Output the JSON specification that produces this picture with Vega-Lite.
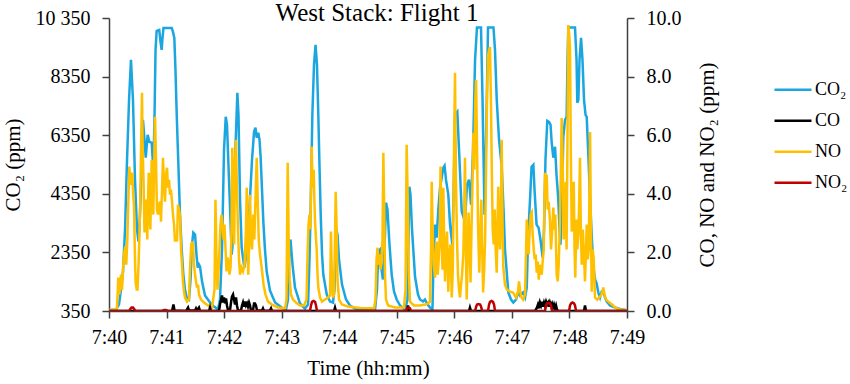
{
"$schema":"https://vega.github.io/schema/vega-lite/v6.json",
"width":518,"height":293,
"autosize":{"type":"none"},
"padding":{"left":109,"top":18,"right":223,"bottom":73},
"background":"white",
"title":{"text":"West Stack: Flight 1","font":"Liberation Serif","fontSize":25,"fontWeight":"normal","color":"#000","anchor":"middle","dx":9,"offset":-18},
"config":{"view":{"stroke":null},"font":"Liberation Serif",
"axis":{"labelFont":"Liberation Serif","titleFont":"Liberation Serif","labelFontSize":20,"titleFontSize":21,"titleFontWeight":"normal","labelColor":"#000","titleColor":"#000","domainColor":"#404040","tickColor":"#404040","domainWidth":1.5,"tickWidth":1.5,"tickSize":7,"grid":false,"labelPadding":12,"labelFlush":false},
"legend":{"orient":"none","legendX":664,"legendY":56.5,"symbolType":"stroke","symbolSize":1369,"symbolStrokeWidth":2.5,"clipHeight":30.5,"labelFont":"Liberation Serif","labelFontSize":18,"labelColor":"#000","labelOffset":2,"rowPadding":0,"padding":0,"title":null}},
"datasets":{
"co2":[{"t":0,"v":384},{"t":7.3,"v":401},{"t":10.4,"v":571},{"t":12.5,"v":1083},{"t":14.6,"v":1696},{"t":16.7,"v":3128},{"t":18.8,"v":5513},{"t":20.9,"v":7558},{"t":22.9,"v":8921},{"t":25,"v":7558},{"t":27.1,"v":4832},{"t":29.2,"v":3128},{"t":30.8,"v":2719},{"t":32.3,"v":3639},{"t":33.9,"v":5172},{"t":35.4,"v":6876},{"t":37,"v":6195},{"t":38.3,"v":5581},{"t":40.3,"v":6365},{"t":42,"v":6127},{"t":44.5,"v":6092},{"t":46.2,"v":5172},{"t":47.4,"v":6876},{"t":48.5,"v":9262},{"t":49.7,"v":9909},{"t":52.4,"v":9944},{"t":53.7,"v":9535},{"t":54.9,"v":9262},{"t":55.8,"v":9671},{"t":56.8,"v":10012},{"t":65.4,"v":10012},{"t":66.7,"v":9875},{"t":68.1,"v":9671},{"t":69.3,"v":8580},{"t":70.6,"v":7047},{"t":72.5,"v":5172},{"t":74,"v":3639},{"t":75.8,"v":2446},{"t":77.5,"v":1594},{"t":79.2,"v":1083},{"t":81,"v":810},{"t":83.4,"v":742},{"t":85,"v":1424},{"t":86.5,"v":2616},{"t":87.9,"v":3025},{"t":89.7,"v":2957},{"t":91.2,"v":2276},{"t":92.5,"v":1832},{"t":93.8,"v":1935},{"t":94.9,"v":1867},{"t":97,"v":1355},{"t":100.1,"v":878},{"t":105.3,"v":640},{"t":109.5,"v":503},{"t":113.6,"v":401},{"t":115.7,"v":742},{"t":117.8,"v":2446},{"t":119.9,"v":5854},{"t":121.7,"v":6979},{"t":123,"v":6706},{"t":125.1,"v":4832},{"t":127.9,"v":2276},{"t":129.3,"v":2787},{"t":131.4,"v":5513},{"t":133.8,"v":7796},{"t":135,"v":7047},{"t":136.6,"v":4150},{"t":138.3,"v":2514},{"t":141.1,"v":1832},{"t":143.3,"v":2276},{"t":145.4,"v":3298},{"t":147,"v":4218},{"t":149.1,"v":5513},{"t":151.2,"v":6467},{"t":152.7,"v":6604},{"t":154,"v":6263},{"t":155.6,"v":6433},{"t":156.9,"v":6195},{"t":158.1,"v":5581},{"t":159.5,"v":4491},{"t":160.9,"v":3400},{"t":162.6,"v":2446},{"t":164.4,"v":1696},{"t":167.8,"v":1049},{"t":173.1,"v":640},{"t":180,"v":469},{"t":184.5,"v":401},{"t":186.6,"v":742},{"t":188.2,"v":2616},{"t":189.2,"v":2787},{"t":191.3,"v":1935},{"t":193.9,"v":1151},{"t":199.1,"v":606},{"t":204.3,"v":435},{"t":207.5,"v":571},{"t":209,"v":2105},{"t":210.1,"v":3639},{"t":212,"v":7047},{"t":213.7,"v":8751},{"t":215.3,"v":9432},{"t":216.8,"v":8751},{"t":218.2,"v":7047},{"t":219.4,"v":5343},{"t":220.7,"v":3639},{"t":222.1,"v":2276},{"t":223.4,"v":1594},{"t":227,"v":912},{"t":230.4,"v":674},{"t":233.5,"v":640},{"t":235.1,"v":1083},{"t":236.6,"v":3196},{"t":238.2,"v":2957},{"t":239.8,"v":2105},{"t":242.9,"v":1253},{"t":247.1,"v":742},{"t":251.2,"v":537},{"t":256.5,"v":435},{"t":266.9,"v":384},{"t":277.3,"v":384},{"t":279.4,"v":1083},{"t":280.7,"v":2378},{"t":282.5,"v":2446},{"t":284.1,"v":1764},{"t":285.6,"v":1424},{"t":287.2,"v":2446},{"t":288.8,"v":4048},{"t":290.3,"v":3809},{"t":292.4,"v":2616},{"t":294.7,"v":1594},{"t":297.1,"v":1015},{"t":299.9,"v":742},{"t":303.4,"v":537},{"t":308.6,"v":401},{"t":311.2,"v":742},{"t":312.2,"v":2787},{"t":313.1,"v":4593},{"t":314.3,"v":4320},{"t":315.9,"v":3128},{"t":319,"v":1526},{"t":322.1,"v":912},{"t":324.2,"v":742},{"t":327.3,"v":674},{"t":329.4,"v":742},{"t":331.5,"v":606},{"t":334.6,"v":469},{"t":337.2,"v":401},{"t":338.3,"v":2105},{"t":339.9,"v":3298},{"t":341.6,"v":2855},{"t":343.3,"v":3809},{"t":345.1,"v":4559},{"t":348.5,"v":5240},{"t":349.8,"v":5309},{"t":351.3,"v":4832},{"t":353.7,"v":4320},{"t":355.5,"v":3298},{"t":357.9,"v":2616},{"t":359.1,"v":4150},{"t":360.7,"v":7047},{"t":363.1,"v":7149},{"t":364.9,"v":5854},{"t":367.7,"v":3741},{"t":371.1,"v":3400},{"t":373.2,"v":4661},{"t":375.3,"v":4832},{"t":377.4,"v":3980},{"t":379.5,"v":5854},{"t":381.6,"v":8921},{"t":383.6,"v":10030},{"t":387.8,"v":10030},{"t":389.4,"v":7558},{"t":391.5,"v":3639},{"t":393.5,"v":6876},{"t":395.1,"v":10030},{"t":400.8,"v":10030},{"t":402.4,"v":9262},{"t":404.2,"v":7558},{"t":406.6,"v":6195},{"t":409.4,"v":5275},{"t":411.3,"v":3809},{"t":412.8,"v":2446},{"t":416.3,"v":980},{"t":419.1,"v":742},{"t":421.5,"v":640},{"t":424.3,"v":742},{"t":426.7,"v":1015},{"t":428.5,"v":878},{"t":431.6,"v":980},{"t":433.7,"v":810},{"t":435.5,"v":1151},{"t":436.8,"v":2787},{"t":438.9,"v":4150},{"t":440.5,"v":5275},{"t":442.4,"v":5343},{"t":443.6,"v":4491},{"t":445.7,"v":3298},{"t":447.8,"v":3196},{"t":449.8,"v":2787},{"t":452.1,"v":2173},{"t":453.5,"v":3128},{"t":455,"v":5513},{"t":456.9,"v":6842},{"t":458.7,"v":6808},{"t":460.3,"v":6706},{"t":461.5,"v":6092},{"t":463.2,"v":5581},{"t":465,"v":5956},{"t":466.5,"v":5002},{"t":468.4,"v":4150},{"t":469.7,"v":3128},{"t":470.7,"v":2616},{"t":472.3,"v":4150},{"t":473.6,"v":6297},{"t":475.4,"v":6876},{"t":477.1,"v":6979},{"t":478,"v":8921},{"t":478.8,"v":10030},{"t":485.8,"v":10030},{"t":487.4,"v":8921},{"t":488.2,"v":7456},{"t":489.3,"v":7558},{"t":490.5,"v":8921},{"t":492.1,"v":9671},{"t":493.6,"v":8921},{"t":495.2,"v":7558},{"t":496.8,"v":7047},{"t":498,"v":6979},{"t":499.9,"v":5513},{"t":501.5,"v":4150},{"t":503.2,"v":2957},{"t":504.9,"v":1867},{"t":506.7,"v":1424},{"t":508.4,"v":1287},{"t":510.1,"v":980},{"t":511.9,"v":810},{"t":513.7,"v":1015},{"t":515.3,"v":1015},{"t":517.1,"v":810},{"t":518.9,"v":674},{"t":522.3,"v":537},{"t":527.5,"v":469},{"t":532.7,"v":418},{"t":539,"v":384}],
"no":[{"t":0,"v":0.03},{"t":4.2,"v":0.03},{"t":8.3,"v":0.09},{"t":9.7,"v":1.14},{"t":10.6,"v":0.56},{"t":11.5,"v":0.73},{"t":12.5,"v":1.24},{"t":13.6,"v":0.73},{"t":14.6,"v":1.41},{"t":15.6,"v":1.93},{"t":17,"v":2.2},{"t":18,"v":1.58},{"t":19.1,"v":2.44},{"t":19.8,"v":3.36},{"t":20.5,"v":4.14},{"t":21.2,"v":4.93},{"t":22.1,"v":4.48},{"t":22.9,"v":4.31},{"t":23.7,"v":4.65},{"t":24.3,"v":4.72},{"t":25.2,"v":3.97},{"t":26.1,"v":3.56},{"t":27.1,"v":1.76},{"t":27.8,"v":0.97},{"t":28.9,"v":0.73},{"t":29.7,"v":0.73},{"t":30.8,"v":1.58},{"t":31.6,"v":2.44},{"t":32.6,"v":3.8},{"t":33.4,"v":5.5},{"t":34.4,"v":7.45},{"t":35.1,"v":5.5},{"t":36,"v":4.48},{"t":37,"v":2.68},{"t":37.8,"v":3.46},{"t":38.6,"v":3.8},{"t":39.3,"v":3.29},{"t":39.9,"v":2.44},{"t":40.7,"v":3.8},{"t":41.4,"v":4.72},{"t":42.2,"v":3.46},{"t":43.1,"v":2.78},{"t":43.8,"v":3.97},{"t":44.5,"v":5.16},{"t":45.3,"v":4.14},{"t":46.2,"v":3.29},{"t":47.1,"v":4.99},{"t":48,"v":6.63},{"t":49,"v":5.16},{"t":50,"v":3.46},{"t":51.1,"v":3.29},{"t":52.1,"v":3.63},{"t":53.2,"v":3.73},{"t":54.2,"v":3.05},{"t":55.3,"v":4.14},{"t":56.3,"v":5.23},{"t":57.3,"v":4.31},{"t":58.4,"v":3.73},{"t":59.4,"v":4.65},{"t":60.5,"v":4.89},{"t":61.5,"v":4.21},{"t":62.6,"v":4.48},{"t":63.6,"v":3.97},{"t":64.6,"v":4.14},{"t":65.7,"v":3.73},{"t":66.7,"v":3.29},{"t":67.8,"v":2.95},{"t":68.8,"v":2.37},{"t":69.8,"v":2.61},{"t":70.9,"v":2.37},{"t":71.9,"v":3.63},{"t":73,"v":3.46},{"t":74,"v":3.29},{"t":75.1,"v":2.1},{"t":76.1,"v":1.58},{"t":77.1,"v":1.01},{"t":78.2,"v":0.66},{"t":79.2,"v":0.46},{"t":81.3,"v":0.32},{"t":83.4,"v":0.39},{"t":84.4,"v":1.41},{"t":85.5,"v":2.16},{"t":86.5,"v":2.37},{"t":87.6,"v":2.27},{"t":88.6,"v":1.58},{"t":89.7,"v":1.24},{"t":90.7,"v":1.01},{"t":91.7,"v":0.8},{"t":92.8,"v":0.9},{"t":93.8,"v":0.56},{"t":95.9,"v":0.39},{"t":99,"v":0.29},{"t":103.2,"v":0.19},{"t":107.4,"v":0.12},{"t":110,"v":0.73},{"t":111,"v":3.8},{"t":112.1,"v":1.76},{"t":113.1,"v":0.73},{"t":114.2,"v":1.41},{"t":115.2,"v":2.1},{"t":116.2,"v":2.95},{"t":117.3,"v":3.29},{"t":118.3,"v":2.95},{"t":119.4,"v":2.44},{"t":120.4,"v":2.95},{"t":121.5,"v":2.1},{"t":122.5,"v":1.35},{"t":123.5,"v":1.82},{"t":124.6,"v":1.69},{"t":125.6,"v":1.24},{"t":126.7,"v":1.48},{"t":127.7,"v":2.78},{"t":128.5,"v":5.57},{"t":129.6,"v":3.8},{"t":130.5,"v":2.27},{"t":131.4,"v":5.16},{"t":132.4,"v":5.84},{"t":133.4,"v":4.14},{"t":134.5,"v":2.78},{"t":135.5,"v":1.76},{"t":136.6,"v":1.24},{"t":138.1,"v":1.48},{"t":139.7,"v":1.35},{"t":141.3,"v":1.58},{"t":142.8,"v":2.78},{"t":143.6,"v":4.21},{"t":144.4,"v":2.1},{"t":145.2,"v":1.24},{"t":146.2,"v":2.44},{"t":147,"v":3.97},{"t":148,"v":2.44},{"t":149.1,"v":2.1},{"t":150.4,"v":3.29},{"t":151.5,"v":2.44},{"t":152.7,"v":3.8},{"t":154,"v":5.23},{"t":155,"v":3.8},{"t":156.1,"v":2.44},{"t":157.4,"v":1.93},{"t":159.2,"v":1.48},{"t":161.1,"v":0.9},{"t":163.2,"v":0.56},{"t":165.8,"v":0.32},{"t":169.9,"v":0.22},{"t":176.2,"v":0.12},{"t":183.5,"v":0.09},{"t":185,"v":0.39},{"t":186.3,"v":5.06},{"t":187.3,"v":2.44},{"t":188.4,"v":1.07},{"t":189.7,"v":0.56},{"t":191.8,"v":0.39},{"t":194.9,"v":0.29},{"t":199.1,"v":0.19},{"t":203.3,"v":0.19},{"t":205.9,"v":0.39},{"t":207.1,"v":2.1},{"t":208,"v":2.95},{"t":209,"v":3.29},{"t":209.9,"v":2.78},{"t":210.6,"v":4.14},{"t":211.3,"v":5.61},{"t":212,"v":4.65},{"t":212.7,"v":4.21},{"t":213.4,"v":4.82},{"t":214.1,"v":3.8},{"t":214.8,"v":3.05},{"t":215.8,"v":2.44},{"t":216.5,"v":2.1},{"t":217.4,"v":1.24},{"t":218.2,"v":0.8},{"t":220,"v":0.46},{"t":222.1,"v":0.32},{"t":225.2,"v":0.39},{"t":228.3,"v":0.46},{"t":230.4,"v":0.53},{"t":231.4,"v":2.71},{"t":232.5,"v":0.9},{"t":233.5,"v":0.46},{"t":234.6,"v":0.56},{"t":235.6,"v":2.44},{"t":236.3,"v":4.07},{"t":237.2,"v":2.95},{"t":238.2,"v":1.07},{"t":239.8,"v":0.39},{"t":242.9,"v":0.22},{"t":249.2,"v":0.15},{"t":261.7,"v":0.1},{"t":276.3,"v":0.09},{"t":277.8,"v":0.39},{"t":278.9,"v":1.76},{"t":279.9,"v":2.16},{"t":281,"v":1.58},{"t":282,"v":1.93},{"t":283,"v":1.41},{"t":284.1,"v":1.69},{"t":285.1,"v":2.44},{"t":286,"v":5.4},{"t":286.9,"v":3.46},{"t":287.7,"v":1.24},{"t":288.8,"v":0.39},{"t":290.9,"v":0.19},{"t":298.2,"v":0.12},{"t":307.5,"v":0.12},{"t":309.1,"v":0.73},{"t":310.3,"v":5.67},{"t":311.4,"v":3.8},{"t":312.4,"v":1.41},{"t":313.8,"v":0.32},{"t":317.9,"v":0.19},{"t":324.2,"v":0.19},{"t":329.4,"v":0.22},{"t":332.6,"v":0.26},{"t":334.6,"v":0.32},{"t":335.7,"v":2.1},{"t":336.4,"v":4.41},{"t":337.4,"v":2.78},{"t":338.5,"v":1.58},{"t":339.9,"v":1.14},{"t":340.9,"v":2.1},{"t":341.6,"v":2.37},{"t":342.7,"v":1.24},{"t":343.7,"v":1.76},{"t":344.8,"v":2.61},{"t":345.6,"v":4.93},{"t":346.6,"v":2.44},{"t":347.7,"v":1.41},{"t":348.5,"v":4.21},{"t":349.4,"v":2.44},{"t":350.3,"v":1.01},{"t":351.3,"v":2.1},{"t":352.4,"v":2.71},{"t":353.7,"v":0.66},{"t":354.8,"v":1.93},{"t":356,"v":2.27},{"t":357.3,"v":0.46},{"t":358.4,"v":1.41},{"t":359.7,"v":5.5},{"t":360.7,"v":8.13},{"t":361.7,"v":4.48},{"t":362.8,"v":2.44},{"t":363.8,"v":1.24},{"t":364.9,"v":0.73},{"t":365.9,"v":0.46},{"t":367,"v":0.9},{"t":368,"v":1.24},{"t":369.4,"v":1.93},{"t":370.3,"v":3.46},{"t":371.1,"v":5.23},{"t":372.2,"v":1.76},{"t":372.9,"v":0.39},{"t":374,"v":1.93},{"t":374.8,"v":3.36},{"t":375.8,"v":2.44},{"t":376.9,"v":0.97},{"t":377.9,"v":2.78},{"t":379,"v":4.48},{"t":379.8,"v":6.08},{"t":380.9,"v":4.82},{"t":381.9,"v":7.21},{"t":382.7,"v":7.89},{"t":383.7,"v":5.5},{"t":384.8,"v":2.78},{"t":386,"v":1.31},{"t":387.2,"v":2.78},{"t":388.2,"v":3.8},{"t":389.3,"v":1.76},{"t":390,"v":0.63},{"t":391.1,"v":1.41},{"t":392.1,"v":2.44},{"t":393.2,"v":5.16},{"t":394.2,"v":7.55},{"t":395.3,"v":8.74},{"t":396.2,"v":8.91},{"t":397.2,"v":9.01},{"t":398.3,"v":6.87},{"t":399,"v":4.93},{"t":400,"v":2.78},{"t":401.1,"v":2.27},{"t":402.1,"v":3.46},{"t":403.1,"v":2.1},{"t":404.2,"v":1.31},{"t":405,"v":2.95},{"t":405.8,"v":4.24},{"t":406.8,"v":2.44},{"t":407.6,"v":2.1},{"t":408.7,"v":3.8},{"t":409.4,"v":5.84},{"t":410.2,"v":3.12},{"t":411,"v":1.52},{"t":412.8,"v":0.9},{"t":414.9,"v":0.73},{"t":418,"v":0.66},{"t":421.2,"v":0.63},{"t":424.3,"v":0.46},{"t":426.4,"v":0.66},{"t":427.4,"v":1.01},{"t":428.5,"v":0.73},{"t":429.5,"v":0.49},{"t":431.6,"v":0.39},{"t":433.7,"v":0.56},{"t":434.8,"v":2.1},{"t":435.5,"v":3.12},{"t":436.5,"v":2.27},{"t":437.5,"v":1.93},{"t":438.6,"v":2.78},{"t":439.6,"v":3.29},{"t":440.7,"v":3.36},{"t":441.7,"v":2.61},{"t":442.8,"v":2.1},{"t":443.8,"v":1.76},{"t":444.8,"v":1.93},{"t":445.9,"v":1.31},{"t":446.9,"v":1.69},{"t":448,"v":1.07},{"t":449,"v":1.58},{"t":450.1,"v":1.41},{"t":451.1,"v":1.24},{"t":452.1,"v":1.69},{"t":453.2,"v":2.1},{"t":454,"v":3.8},{"t":454.5,"v":4.72},{"t":455.6,"v":3.8},{"t":456.3,"v":4.65},{"t":457.3,"v":3.46},{"t":458.4,"v":3.73},{"t":459.7,"v":3.05},{"t":460.8,"v":2.1},{"t":461.8,"v":2.61},{"t":463.2,"v":3.53},{"t":464.2,"v":2.78},{"t":465.3,"v":3.29},{"t":466.7,"v":1.24},{"t":467.8,"v":1.01},{"t":468.8,"v":1.58},{"t":469.9,"v":2.78},{"t":470.9,"v":4.48},{"t":471.9,"v":6.59},{"t":473,"v":4.99},{"t":474,"v":2.44},{"t":475.1,"v":3.12},{"t":476.1,"v":4.41},{"t":477,"v":2.1},{"t":477.8,"v":5.16},{"t":478.8,"v":9.76},{"t":479.8,"v":9.42},{"t":480.6,"v":8.98},{"t":481.4,"v":5.5},{"t":482.4,"v":2.71},{"t":483.4,"v":3.46},{"t":484.5,"v":4.41},{"t":485.3,"v":2.1},{"t":486.1,"v":1.14},{"t":487.2,"v":3.12},{"t":488.2,"v":2.1},{"t":489.3,"v":2.61},{"t":490.2,"v":3.8},{"t":491,"v":5.23},{"t":491.9,"v":2.78},{"t":492.8,"v":1.58},{"t":493.9,"v":2.78},{"t":494.9,"v":2.1},{"t":496.2,"v":1.01},{"t":497.3,"v":2.1},{"t":498,"v":2.95},{"t":499.1,"v":1.76},{"t":500.1,"v":2.1},{"t":501,"v":4.48},{"t":501.5,"v":6.11},{"t":502.3,"v":3.12},{"t":503.2,"v":0.66},{"t":504.3,"v":2.1},{"t":505.3,"v":1.76},{"t":506.7,"v":0.46},{"t":508.8,"v":0.39},{"t":510.8,"v":0.46},{"t":512.9,"v":0.53},{"t":514.5,"v":0.66},{"t":515.3,"v":0.8},{"t":516.6,"v":0.56},{"t":518.1,"v":0.39},{"t":520.5,"v":0.32},{"t":524.4,"v":0.22},{"t":527.5,"v":0.12},{"t":532.7,"v":0.05},{"t":539,"v":0.03}],
"co":[{"t":0,"v":0},{"t":65.7,"v":0},{"t":67.2,"v":0.22},{"t":68.3,"v":0.02},{"t":80.3,"v":0},{"t":82.4,"v":0.12},{"t":83.4,"v":0.02},{"t":89.7,"v":0.02},{"t":90.7,"v":0.09},{"t":91.7,"v":0.02},{"t":93.8,"v":0.12},{"t":94.9,"v":0},{"t":104.3,"v":0},{"t":105.3,"v":0.12},{"t":106.3,"v":0},{"t":114.7,"v":0},{"t":115.7,"v":0.22},{"t":116.8,"v":0.39},{"t":117.8,"v":0.53},{"t":118.8,"v":0.29},{"t":119.9,"v":0.46},{"t":120.9,"v":0.26},{"t":122,"v":0.43},{"t":123,"v":0.19},{"t":124.1,"v":0.02},{"t":126.1,"v":0.02},{"t":127.2,"v":0.29},{"t":128.2,"v":0.49},{"t":129.3,"v":0.56},{"t":130.3,"v":0.39},{"t":131.4,"v":0.22},{"t":132.4,"v":0.46},{"t":133.4,"v":0.19},{"t":134.5,"v":0.02},{"t":137.6,"v":0.02},{"t":138.7,"v":0.19},{"t":139.7,"v":0.29},{"t":140.7,"v":0.15},{"t":141.8,"v":0.32},{"t":142.8,"v":0.19},{"t":143.9,"v":0.26},{"t":144.9,"v":0.15},{"t":146,"v":0.29},{"t":147,"v":0.19},{"t":148,"v":0.02},{"t":150.1,"v":0.02},{"t":151.2,"v":0.26},{"t":152.2,"v":0.26},{"t":153.2,"v":0.19},{"t":154.3,"v":0.02},{"t":159.5,"v":0.02},{"t":160.5,"v":0.09},{"t":161.6,"v":0},{"t":167.8,"v":0.02},{"t":168.9,"v":0.09},{"t":169.9,"v":0},{"t":234.6,"v":0},{"t":235.6,"v":0.12},{"t":236.6,"v":0},{"t":310.7,"v":0},{"t":311.7,"v":0.19},{"t":312.8,"v":0},{"t":375.3,"v":0},{"t":376.3,"v":0.12},{"t":377.4,"v":0},{"t":444.1,"v":0},{"t":446.2,"v":0.12},{"t":447.2,"v":0.22},{"t":448.3,"v":0.09},{"t":449.3,"v":0.29},{"t":450.4,"v":0.19},{"t":451.4,"v":0.32},{"t":452.4,"v":0.15},{"t":453.5,"v":0.29},{"t":454.5,"v":0.19},{"t":455.6,"v":0.32},{"t":456.6,"v":0.22},{"t":457.7,"v":0.29},{"t":458.7,"v":0.15},{"t":459.7,"v":0.29},{"t":460.8,"v":0.19},{"t":461.8,"v":0.26},{"t":462.9,"v":0.12},{"t":463.9,"v":0.22},{"t":465,"v":0.09},{"t":466,"v":0.19},{"t":467,"v":0.05},{"t":468.1,"v":0},{"t":495.2,"v":0},{"t":496.2,"v":0.19},{"t":497.3,"v":0},{"t":540,"v":0}],
"no2":[{"t":0,"v":0},{"t":20.9,"v":0},{"t":21.9,"v":0.05},{"t":23.5,"v":0.12},{"t":25,"v":0.12},{"t":26.6,"v":0.05},{"t":27.6,"v":0},{"t":55.3,"v":0},{"t":57.3,"v":0.03},{"t":59.4,"v":0.03},{"t":61.5,"v":0},{"t":209.5,"v":0},{"t":210.6,"v":0.19},{"t":211.6,"v":0.31},{"t":213.2,"v":0.34},{"t":214.8,"v":0.31},{"t":215.8,"v":0.19},{"t":216.8,"v":0},{"t":309.6,"v":0},{"t":310.7,"v":0.09},{"t":312.2,"v":0.12},{"t":313.8,"v":0.09},{"t":314.8,"v":0},{"t":381.6,"v":0},{"t":382.7,"v":0.15},{"t":383.7,"v":0.22},{"t":385.3,"v":0.24},{"t":386.9,"v":0.22},{"t":387.9,"v":0.15},{"t":389,"v":0},{"t":395.1,"v":0},{"t":396.2,"v":0.22},{"t":397.2,"v":0.31},{"t":398.8,"v":0.34},{"t":400.3,"v":0.31},{"t":401.4,"v":0.22},{"t":402.4,"v":0},{"t":454.5,"v":0},{"t":455.6,"v":0.19},{"t":456.6,"v":0.26},{"t":458.2,"v":0.27},{"t":459.7,"v":0.26},{"t":460.8,"v":0.19},{"t":461.8,"v":0},{"t":479.6,"v":0},{"t":480.6,"v":0.19},{"t":481.7,"v":0.26},{"t":483.2,"v":0.29},{"t":484.8,"v":0.26},{"t":485.8,"v":0.19},{"t":486.9,"v":0},{"t":540,"v":0}]
},
"layer":[
{"data":{"name":"co2"},"mark":{"type":"line","strokeWidth":2.5,"clip":true},
 "encoding":{
  "x":{"field":"t","type":"quantitative","scale":{"domain":[0,540],"nice":false,"zero":false},"axis":{"values":[0,60,120,180,240,300,360,420,480,540],"labelExpr":"'7:' + (40 + round(datum.value/60))","title":"Time (hh:mm)","labelPadding":9,"titlePadding":10}},
  "y":{"field":"v","type":"quantitative","scale":{"domain":[350,10350],"nice":false,"zero":false},"axis":{"orient":"left","values":[350,2350,4350,6350,8350,10350],"labelExpr":"datum.value == 10350 ? '10 350' : datum.value","title":"CO₂ (ppm)","titlePadding":12}},
  "color":{"datum":"CO₂","type":"nominal","scale":{"domain":["CO₂","CO","NO","NO₂"],"range":["#1BA6E0","#000000","#FFC000","#C00000"]}}
 }},
{"layer":[
 {"data":{"name":"no"},"mark":{"type":"line","strokeWidth":2.5,"clip":true},
  "encoding":{"x":{"field":"t","type":"quantitative"},
   "y":{"field":"v","type":"quantitative","scale":{"domain":[0,10],"nice":false,"zero":true},"axis":{"orient":"right","values":[0,2,4,6,8,10],"format":".1f","title":"CO, NO and  NO₂ (ppm)","titleAngle":270,"titlePadding":36}},
   "color":{"datum":"NO","type":"nominal"}}},
 {"data":{"name":"co"},"mark":{"type":"line","strokeWidth":2.5,"clip":true},
  "encoding":{"x":{"field":"t","type":"quantitative"},"y":{"field":"v","type":"quantitative"},"color":{"datum":"CO","type":"nominal"}}},
 {"data":{"name":"no2"},"mark":{"type":"line","strokeWidth":2.5,"clip":true},
  "encoding":{"x":{"field":"t","type":"quantitative"},"y":{"field":"v","type":"quantitative"},"color":{"datum":"NO₂","type":"nominal"}}}
]}
],
"resolve":{"scale":{"y":"independent"}}
}
